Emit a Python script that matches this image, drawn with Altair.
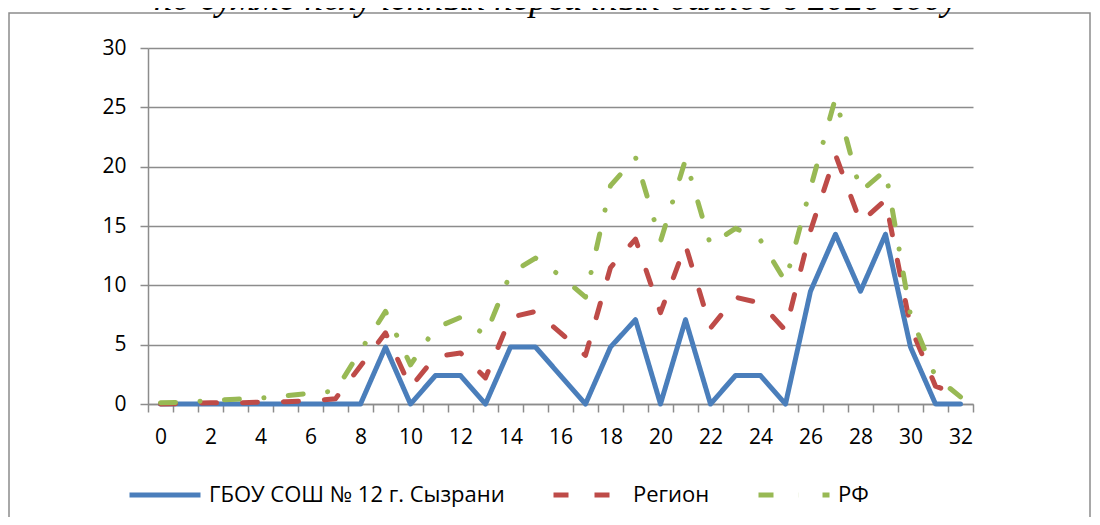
import altair as alt
import pandas as pd

scores = list(range(33))
school = [0, 0, 0, 0, 0, 0, 0, 0, 0, 4.8, 0, 2.4, 2.4, 0, 4.8, 4.8, 2.4, 0, 4.8, 7.1, 0,
          7.1, 0, 2.4, 2.4, 0, 9.5, 14.3, 9.5, 14.3, 4.8, 0, 0]
region = [0, 0.05, 0.1, 0.1, 0.15, 0.2, 0.25, 0.45, 3.2, 6.0, 1.4, 4.0, 4.3, 2.2, 7.3, 7.8, 6.0,
          4.1, 11.5, 13.9, 7.7, 13.4, 6.4, 9.0, 8.5, 6.2, 14.6, 21.0, 15.3, 17.2, 6.5, 1.5, 0.7]
rf = [0.1, 0.15, 0.3, 0.4, 0.5, 0.7, 0.9, 1.1, 4.5, 7.8, 3.3, 6.4, 7.3, 5.8, 11.0, 12.3, 10.8,
      9.0, 18.4, 20.8, 13.7, 20.6, 13.4, 14.8, 13.8, 10.3, 18.2, 25.8, 17.9, 19.7, 7.5, 2.3, 0.6]

series_names = ["ГБОУ СОШ № 12 г. Сызрани", "Регион", "РФ"]
series_colors = ["#4A7EBB", "#BE4B48", "#98B954"]
series_dashes = [[1, 0], [15, 26], [15, 24.5, 0.1, 24.4]]
title_text = "по сумме полученных первичных баллов в 2020 году"
y_ticks = [0, 5, 10, 15, 20, 25, 30]

rows = []
for name, vals in zip(series_names, [school, region, rf]):
    for s, v in zip(scores, vals):
        rows.append({"score": s, "value": v, "series": name})
df = pd.DataFrame(rows)

FONT = "Open Sans"
GRID = "#8c8c8c"

lines = alt.Chart(df).mark_line(strokeWidth=5, strokeCap="round", strokeJoin="round").encode(
    x=alt.X("score:O", sort="ascending",
            scale=alt.Scale(type="band", paddingInner=0, paddingOuter=0),
            axis=alt.Axis(title=None, tickBand="extent", grid=False,
                          labelExpr="datum.value % 2 === 0 ? datum.label : ''",
                          labelAngle=0, labelOverlap=False,
                          domainColor=GRID, domainWidth=1.5,
                          tickColor=GRID, tickWidth=1.5, tickSize=8,
                          labelFont=FONT, labelFontSize=21, labelColor="black",
                          labelPadding=14)),
    y=alt.Y("value:Q", scale=alt.Scale(domain=[0, 30], nice=False),
            axis=alt.Axis(title=None, values=y_ticks, grid=True,
                          gridColor=GRID, gridWidth=1.5,
                          domainColor=GRID, domainWidth=1.5,
                          tickColor=GRID, tickWidth=1.5, tickSize=8,
                          labelFont=FONT, labelFontSize=21, labelColor="black",
                          labelPadding=14)),
    color=alt.Color("series:N",
                    scale=alt.Scale(domain=series_names, range=series_colors),
                    legend=alt.Legend(title=None, orient="none", legendX=-21, legendY=409,
                                      direction="horizontal", columns=3, gridAlign="none",
                                      columnPadding=38, symbolType="stroke",
                                      symbolSize=5041, symbolStrokeWidth=5,
                                      labelFont=FONT, labelFontSize=22, labelColor="black",
                                      labelOffset=6, labelLimit=500)),
    strokeDash=alt.StrokeDash("series:N",
                              scale=alt.Scale(domain=series_names, range=series_dashes),
                              legend=None),
    detail="series:N",
)

frame = alt.Chart(alt.Data(values=[{}])).mark_rect(
    fillOpacity=0, stroke="#8c8c8c", strokeWidth=1.5
).encode(x=alt.value(-139), x2=alt.value(942), y=alt.value(-35), y2=alt.value(520))

title = alt.Chart(alt.Data(values=[{"t": title_text}])).mark_text(
    font="Liberation Serif", fontStyle="italic", fontSize=37, color="black",
    align="center", baseline="alphabetic"
).encode(x=alt.value(408), y=alt.value(-38), text="t:N")

chart = alt.layer(frame, title, lines).properties(
    width=825, height=356,
    padding={"left": 140, "top": 40, "right": 119, "bottom": 113},
    autosize=alt.AutoSizeParams(type="none"),
).configure_view(stroke="transparent")

chart.save("out.html", embed_options={"renderer": "svg", "actions": False})
